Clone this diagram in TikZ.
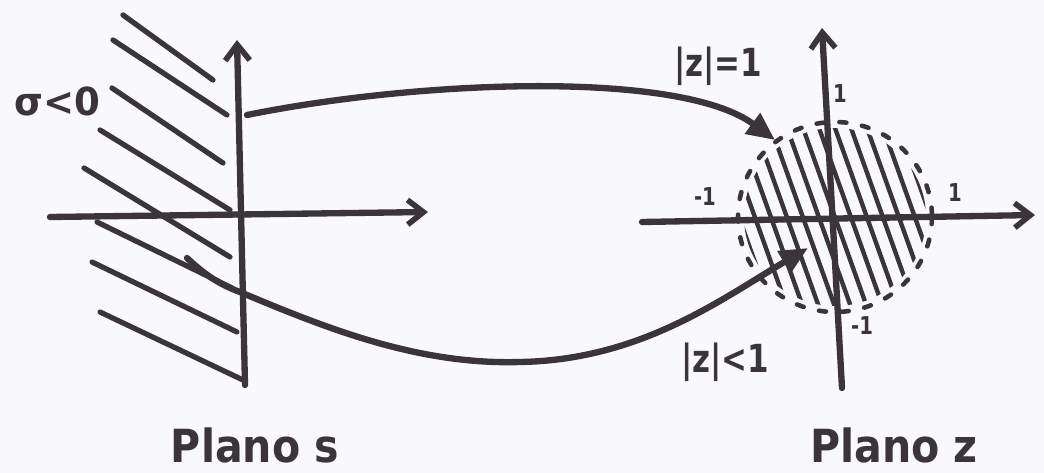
\documentclass[tikz,border=0pt]{standalone}
\usepackage{fontspec}
\setmainfont{DejaVu Sans}
\usetikzlibrary{arrows.meta}
\definecolor{ink}{HTML}{3B3438}
\definecolor{paper}{HTML}{F9F9FD}
\begin{document}
\begin{tikzpicture}[x=0.02cm,y=-0.02cm,
  pen/.style={draw=ink,line width=3.6pt,line cap=round,line join=round},
  axis/.style={pen,-{Straight Barb[length=9pt,width=14pt,line width=3.2pt]}},
  maparrow/.style={pen,-{Triangle[length=16pt,width=14pt]}},
  hatch/.style={draw=ink,line width=3pt,line cap=round},
  thinhatch/.style={draw=ink,line width=2.5pt,line cap=round},
  unitcircle/.style={draw=ink,line width=2.6pt,dash pattern=on 4pt off 9pt,line cap=round},
  hand/.style={text=ink,font=\bfseries\fontsize{22}{24}\selectfont,inner sep=0pt,xscale=0.8},
  tick/.style={text=ink,font=\bfseries\fontsize{14}{16}\selectfont,inner sep=0pt,xscale=0.8},
  title/.style={text=ink,font=\bfseries\fontsize{26}{28}\selectfont,inner sep=0pt,xscale=0.9,anchor=base}]
  % paper
  \fill[paper] (0,0) rectangle (1044,473);
  \useasboundingbox (0,0) rectangle (1044,473);

  % ---- s plane ----
  \coordinate (s-im0) at (245,385);
  \coordinate (s-im1) at (237,40);
  \coordinate (s-re0) at (50,217);
  \coordinate (s-re1) at (428,212);
  \draw[axis] (s-im0) -- (s-im1);
  \draw[axis] (s-re0) -- (s-re1);

  % left half-plane hatching
  \foreach \ax/\ay/\bx/\by in {123/15/213/80, 113/40/227/115, 112/88/223/163,
      100/130/230/210, 84/168/230/257, 97/222/232/288, 92/262/237/332,
      100/312/243/380}
    \draw[hatch] (\ax,\ay) -- (\bx,\by);

  \node[hand,xscale=1.2] (sigma) at (57,101) {σ<0};

  % ---- z plane ----
  \coordinate (z-im0) at (842,388);
  \coordinate (z-im1) at (822,28);
  \coordinate (z-re0) at (642,222);
  \coordinate (z-re1) at (1035,215);
  \coordinate (z-o) at (835,217);

  % hatched interior of the unit circle
  \begin{scope}
    \clip (z-o) circle[x radius=91,y radius=89];
    \foreach \d in {-96,-80,...,100}
      \draw[thinhatch] (835+\d-42,100) -- (835+\d+42,335);
  \end{scope}
  \draw[unitcircle] (z-o) circle[x radius=97,y radius=95];

  \draw[axis] (z-im0) -- (z-im1);
  \draw[axis] (z-re0) -- (z-re1);

  \node[tick] (t-up) at (840,94) {1};
  \node[tick] (t-left) at (705,197) {-1};
  \node[tick] (t-right) at (955,193) {1};
  \node[tick] (t-down) at (862,326) {-1};

  % ---- mappings ----
  \coordinate (top-start) at (247,115);
  \coordinate (top-end) at (775,140);
  \draw[maparrow] (top-start) .. controls (420,80) and (680,70) .. (top-end);

  \coordinate (bot-start) at (187,258);
  \coordinate (bot-knee) at (240,292);
  \coordinate (bot-low) at (520,362);
  \coordinate (bot-end) at (808,248);
  \draw[maparrow] (bot-start) .. controls (200,270) and (215,283) .. (bot-knee)
     .. controls (330,330) and (420,365) .. (bot-low)
     .. controls (640,360) and (720,300) .. (bot-end);

  \node[hand] (lbl-eq) at (718,66) {|z|=1};
  \node[hand] (lbl-lt) at (725,362) {|z|<1};

  % ---- titles ----
  \node[title] (plane-s) at (255,462) {Plano s};
  \node[title] (plane-z) at (894,462) {Plano z};
\end{tikzpicture}
\end{document}
